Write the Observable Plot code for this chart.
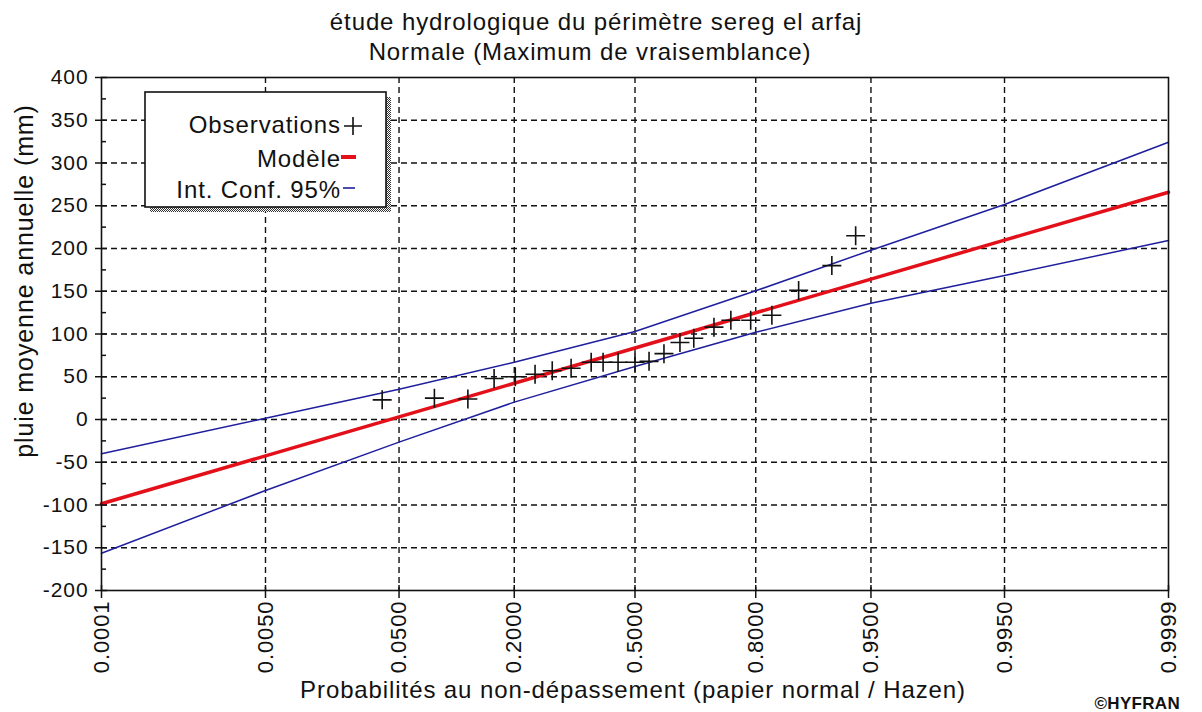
<!DOCTYPE html>
<html>
<head>
<meta charset="utf-8">
<script src="https://cdn.jsdelivr.net/npm/d3@7"></script>
<script src="https://cdn.jsdelivr.net/npm/@observablehq/plot@0.6"></script>
<style>
  body { margin: 0; background: #fff; font-family: "Liberation Sans", Arial, sans-serif; }
  #wrap { position: relative; width: 1202px; height: 712px; }
  #title { position: absolute; left: 0; top: 0; width: 1202px; padding-top: 7px; text-align: center;
           font-size: 24px; line-height: 30px; letter-spacing: 0.9px; color: #111; z-index: 2; }
  #title div { position: relative; }
  #chart svg { display: block; }
</style>
</head>
<body>
<div id="wrap">
  <div id="chart"></div>
  <div id="title">
    <div style="left:-5px">étude hydrologique du périmètre sereg el arfaj</div>
    <div style="left:-11px">Normale (Maximum de vraisemblance)</div>
  </div>
</div>
<script>
// ---- data ----
const tickProbs  = [0.0001, 0.005, 0.05, 0.2, 0.5, 0.8, 0.95, 0.995, 0.9999];
const tickLabels = ["0.0001", "0.0050", "0.0500", "0.2000", "0.5000", "0.8000", "0.9500", "0.9950", "0.9999"];
const modelValues = [-98.6, -42.6, 3.0, 42.4, 83.6, 124.8, 164.2, 209.8, 265.8];
const upperValues = [-40, 1.5, 35.5, 67, 103, 150.5, 198, 251.5, 324.3];
const lowerValues = [-156.4, -83, -26.5, 20.3, 62, 102, 136, 168.4, 209.4];
const obsProbs  = [0.039, 0.081, 0.122, 0.163, 0.202, 0.243, 0.282, 0.328, 0.380, 0.412, 0.453, 0.500,
                   0.539, 0.580, 0.623, 0.659, 0.709, 0.748, 0.790, 0.830, 0.873, 0.915, 0.938];
const obsValues = [23, 25, 24, 48, 50, 53, 57, 60, 67, 67, 67, 67,
                   68, 77, 90, 95, 108, 116, 116, 122, 151, 180, 215];
const yMajor = [-200, -150, -100, -50, 0, 50, 100, 150, 200, 250, 300, 350, 400];
const yMinor = [-175, -125, -75, -25, 25, 75, 125, 175, 225, 275, 325, 375];
const legendLabels = ["Observations", "Modèle", "Int. Conf. 95%"];

// inverse standard normal CDF (normal probability paper)
function probit(p) {
  const a = [-3.969683028665376e+01, 2.209460984245205e+02, -2.759285104469687e+02, 1.383577518672690e+02, -3.066479806614716e+01, 2.506628277459239e+00];
  const b = [-5.447609879822406e+01, 1.615858368580409e+02, -1.556989798598866e+02, 6.680131188771972e+01, -1.328068155288572e+01];
  const c = [-7.784894002430293e-03, -3.223964580411365e-01, -2.400758277161838e+00, -2.549732539343734e+00, 4.374664141464968e+00, 2.938163982698783e+00];
  const d = [7.784695709041462e-03, 3.224671290700398e-01, 2.445134137142996e+00, 3.754408661907416e+00];
  const pl = 0.02425, ph = 1 - pl;
  let q, r;
  if (p < pl) {
    q = Math.sqrt(-2 * Math.log(p));
    return (((((c[0]*q+c[1])*q+c[2])*q+c[3])*q+c[4])*q+c[5]) / ((((d[0]*q+d[1])*q+d[2])*q+d[3])*q+1);
  }
  if (p <= ph) {
    q = p - 0.5; r = q * q;
    return (((((a[0]*r+a[1])*r+a[2])*r+a[3])*r+a[4])*r+a[5])*q / (((((b[0]*r+b[1])*r+b[2])*r+b[3])*r+b[4])*r+1);
  }
  q = Math.sqrt(-2 * Math.log(1 - p));
  return -(((((c[0]*q+c[1])*q+c[2])*q+c[3])*q+c[4])*q+c[5]) / ((((d[0]*q+d[1])*q+d[2])*q+d[3])*q+1);
}

const ticks = tickProbs.map((p, i) => ({z: probit(p), label: tickLabels[i]}));
const curves = tickProbs.map((p, i) => ({z: probit(p), model: modelValues[i], upper: upperValues[i], lower: lowerValues[i]}));
const obs = obsProbs.map((p, i) => ({z: probit(p), v: obsValues[i]}));

const W = 1202, H = 712, mT = 77, mB = 122, mL = 101, mR = 34;
const fw = W - mL - mR, fh = H - mT - mB;

const plusSymbol = {
  draw(ctx, size) {
    const r = Math.sqrt(size / Math.PI);
    ctx.moveTo(-r, 0); ctx.lineTo(r, 0);
    ctx.moveTo(0, -r); ctx.lineTo(0, r);
  }
};

const gridStyle = {stroke: "#111", strokeWidth: 1.4, strokeDasharray: "6,4"};
const blue = "#1f1f9e", red = "#e3101a";

const plot = Plot.plot({
  width: W, height: H,
  marginTop: mT, marginBottom: mB, marginLeft: mL, marginRight: mR,
  x: {domain: [probit(0.0001), probit(0.9999)], axis: null},
  y: {domain: [-200, 400], axis: null},
  style: {fontFamily: '"Liberation Sans", Arial, sans-serif', letterSpacing: "0.9px", color: "#111", background: "#fff"},
  marks: [
    Plot.ruleY(yMajor.slice(1, -1), gridStyle),
    Plot.ruleX(ticks.slice(1, -1), {x: "z", ...gridStyle}),
    Plot.line(curves, {x: "z", y: "upper", stroke: blue, strokeWidth: 1.5}),
    Plot.line(curves, {x: "z", y: "lower", stroke: blue, strokeWidth: 1.5}),
    Plot.line(curves, {x: "z", y: "model", stroke: red, strokeWidth: 3.5}),
    Plot.dot(obs, {x: "z", y: "v", symbol: plusSymbol, r: 9.5, stroke: "#111", strokeWidth: 1.6, fill: "none"}),
    Plot.frame({stroke: "#111", strokeWidth: 1.6}),
    Plot.tickY(yMajor, {y: d => d, insetLeft: -6, insetRight: fw - 6, stroke: "#111", strokeWidth: 1.5}),
    Plot.tickY(yMinor, {y: d => d, insetLeft: 0, insetRight: fw - 5, stroke: "#111", strokeWidth: 1.5}),
    Plot.tickX(ticks, {x: "z", insetTop: fh - 5, insetBottom: -8, stroke: "#111", strokeWidth: 1.5}),
    Plot.text(yMajor, {y: d => d, text: d => String(d), frameAnchor: "left", textAnchor: "end", dx: -13, fontSize: 21, fill: "#111"}),
    Plot.text(ticks, {x: "z", text: "label", frameAnchor: "bottom", rotate: -90, textAnchor: "end", lineAnchor: "middle", dy: 10, fontSize: 22, fill: "#111"})
  ]
});
document.getElementById("chart").appendChild(plot);

// axis titles, legend, credit
const svg = d3.select(plot);
svg.append("text")
  .attr("transform", "translate(24,281) rotate(-90)")
  .attr("text-anchor", "middle").attr("dy", "0.35em")
  .attr("font-size", 25).attr("fill", "#111")
  .text("pluie moyenne annuelle (mm)");
svg.append("text")
  .attr("x", 633).attr("y", 698)
  .attr("text-anchor", "middle")
  .attr("font-size", 24).attr("fill", "#111")
  .text("Probabilités au non-dépassement (papier normal / Hazen)");
svg.append("text")
  .attr("x", 1180).attr("y", 709)
  .attr("text-anchor", "end")
  .attr("font-size", 17).attr("font-weight", "bold").attr("letter-spacing", "0.3px").attr("fill", "#111")
  .text("©HYFRAN");

// legend box with hatched shadow
const defs = svg.append("defs");
const pat = defs.append("pattern").attr("id", "shadowPat").attr("width", 2).attr("height", 2).attr("patternUnits", "userSpaceOnUse");
pat.append("rect").attr("width", 2).attr("height", 2).attr("fill", "#fff");
pat.append("rect").attr("width", 1).attr("height", 1).attr("fill", "#333");
pat.append("rect").attr("x", 1).attr("y", 1).attr("width", 1).attr("height", 1).attr("fill", "#333");
const lg = svg.append("g");
lg.append("rect").attr("x", 150).attr("y", 97).attr("width", 241).attr("height", 115).attr("fill", "url(#shadowPat)");
lg.append("rect").attr("x", 145).attr("y", 92).attr("width", 241).attr("height", 115)
  .attr("fill", "#fff").attr("stroke", "#111").attr("stroke-width", 1.6);
const ys = [133, 166.5, 198];
legendLabels.forEach((t, i) => {
  lg.append("text").attr("x", 341).attr("y", ys[i]).attr("text-anchor", "end")
    .attr("font-size", 24).attr("fill", "#111").text(t);
});
lg.append("path").attr("d", "M344,126H362M353,117V135").attr("stroke", "#111").attr("stroke-width", 1.6);
lg.append("path").attr("d", "M341,157H356").attr("stroke", red).attr("stroke-width", 4);
lg.append("path").attr("d", "M343,188H355").attr("stroke", blue).attr("stroke-width", 1.6);
</script>
</body>
</html>
